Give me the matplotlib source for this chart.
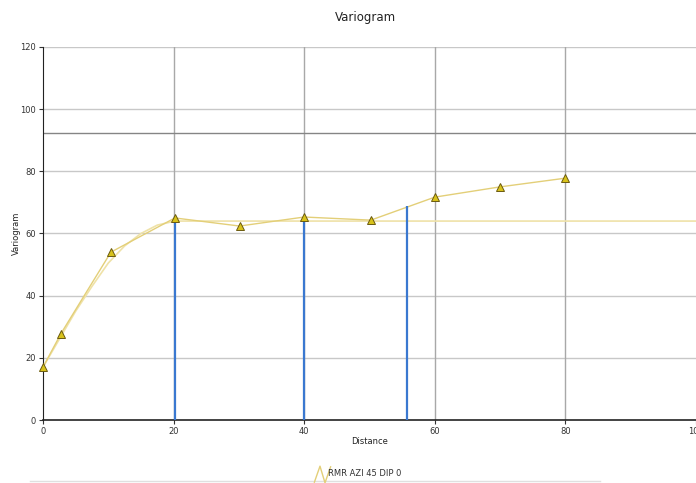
import matplotlib
matplotlib.use("Agg")
import matplotlib.pyplot as plt
from matplotlib.lines import Line2D
from matplotlib.path import Path

# Experimental variogram (triangles)
exp_distance = [0, 2.75, 10.4, 20.2, 30.1, 40.0, 50.2, 60.0, 70.0, 80.0]
exp_variogram = [17.0, 27.8, 54.0, 65.0, 62.4, 65.3, 64.3, 71.7, 75.0, 77.8]

# Fitted model curve
model_distance = [0, 2.5, 5, 7.5, 10, 12.5, 15, 17.5, 20, 21, 100]
model_variogram = [17.0, 26.0, 35.0, 43.0, 50.5, 56.0, 60.0, 62.7, 63.9, 64.0, 64.0]

# Blue vertical markers: distance and top value
marker_distance = [20.2, 40.0, 55.7]
marker_top = [65.5, 65.3, 68.8]

# Horizontal reference line (variance)
variance_level = 92.3

x_ticks = [0, 20, 40, 60, 80, 100]
y_ticks = [0, 20, 40, 60, 80, 100, 120]

title = "Variogram"
x_label = "Distance"
y_label = "Variogram"
legend_label = "RMR AZI 45 DIP 0"

fig = plt.figure(figsize=(6.96, 4.83), dpi=100)
ax = fig.add_axes([43 / 696, 1 - 420 / 483, (696 - 43) / 696, (420 - 47) / 483])

ax.set_xlim(0, 100)
ax.set_ylim(0, 120)

# grid
for yv in y_ticks[1:]:
    ax.axhline(yv, color="#c8c8c8", lw=1.0, zorder=1)
for xv in x_ticks[1:-1]:
    ax.axvline(xv, color="#a8a8a8", lw=1.0, zorder=1)
ax.axhline(variance_level, color="#858585", lw=1.0, zorder=1)

# model and experimental lines
ax.plot(model_distance, model_variogram, color="#efe2a8", lw=1.2, zorder=3)
ax.plot(exp_distance, exp_variogram, color="#e3cf78", lw=1.0, zorder=3)

# blue vertical lines
ax.vlines(marker_distance, 0, marker_top, color="#3a78d0", lw=1.6, zorder=4)

# triangles
ax.plot(exp_distance, exp_variogram, ls="none", marker="^", ms=5.5,
        markerfacecolor="#d8c21a", markeredgecolor="#6a5a10", markeredgewidth=0.7,
        zorder=5, clip_on=False)

ax.set_xticks(x_ticks)
ax.set_yticks(y_ticks)
ax.tick_params(axis="both", labelsize=6, length=3, width=0.8, color="#333333",
               labelcolor="#333333", pad=2)
for s in ["top", "right"]:
    ax.spines[s].set_visible(False)
ax.spines["left"].set_color("#222222")
ax.spines["bottom"].set_color("#222222")
ax.spines["bottom"].set_linewidth(1.2)

fig.text(365 / 696, 1 - 18 / 483, title, ha="center", va="center", fontsize=8.5, color="#222222")
fig.text(370 / 696, 1 - 441 / 483, x_label, ha="center", va="center", fontsize=6, color="#222222")
fig.text(16 / 696, 1 - 233 / 483, y_label, ha="center", va="center", fontsize=6,
         rotation=90, color="#222222")

# legend with a zigzag glyph
zig = Path([(-1, -1), (-0.3, 1), (0.3, -1), (1, 1)],
           [Path.MOVETO, Path.LINETO, Path.LINETO, Path.LINETO])
handle = Line2D([], [], ls="none", marker=zig, ms=12, markerfacecolor="none",
                markeredgecolor="#e3cf78", markeredgewidth=1.0)
fig.legend([handle], [legend_label], loc="center", bbox_to_anchor=(360 / 696, 1 - 474 / 483),
           frameon=False, fontsize=6, handlelength=0.8, handletextpad=0.3,
           labelcolor="#333333")

# faint bottom separator
fig.add_artist(Line2D([30 / 696, 600 / 696], [1 - 481 / 483] * 2, color="#e0e0e0", lw=1.0))

fig.savefig("out.png", dpi=100)
